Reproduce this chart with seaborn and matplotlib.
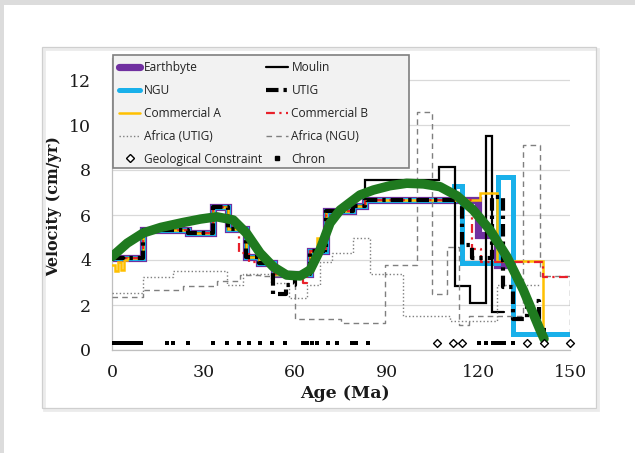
import matplotlib
matplotlib.use("Agg")
import matplotlib.pyplot as plt
from matplotlib.lines import Line2D
from matplotlib.patches import Rectangle
import pandas as pd
import seaborn as sns

sns.set_theme(style="white")
plt.rcParams['font.family'] = ['DejaVu Serif']

# ---- plate velocity models: each value holds from its age until the next age (Ma, cm/yr)
earthbyte_age = [0, 10, 25, 33, 38, 44, 48, 53, 65, 70, 79, 83, 120, 126, 130]
earthbyte_vel = [4.1, 5.35, 5.2, 6.35, 5.4, 4.15, 3.85, 3.4, 4.4, 6.2, 6.4, 6.65, 5.1, 3.8, 3.8]

ngu_age = [0, 10, 25, 33, 38, 44, 48, 53, 65, 70, 79, 83, 112, 114.6, 126.5, 131.4, 150]
ngu_vel = [4.1, 5.35, 5.2, 6.35, 5.4, 4.15, 3.85, 3.4, 4.4, 6.2, 6.4, 6.65, 7.3, 3.85, 7.7, 0.7, 0.7]

moulin_age = [0, 10, 25, 33, 38, 44, 48, 53, 65, 70, 79, 83, 107, 112.3, 117.3, 122.5, 124.5, 128.5]
moulin_vel = [4.1, 5.35, 5.2, 6.35, 5.4, 4.15, 3.85, 3.4, 4.4, 6.2, 6.4, 7.55, 8.15, 2.85, 2.1, 9.5, 1.7, 1.7]

utig_age = [0, 10, 25, 33, 38, 44, 48, 52.8, 57, 60, 65, 70, 79, 83, 114.5, 118, 124.5, 128, 131.4, 136, 140, 142]
utig_vel = [4.1, 5.35, 5.2, 6.35, 5.4, 4.15, 3.85, 2.5, 2.9, 3.4, 4.4, 6.2, 6.4, 6.65, 4.65, 4.1, 6.8, 2.8, 1.4, 2.2, 0.9, 0.9]

comm_a_age = [0, 1, 2, 3, 4, 5, 10, 25, 33, 38, 44, 48, 53, 65, 67, 70, 79, 83, 120.5, 126, 141.3]
comm_a_vel = [3.8, 3.5, 3.9, 3.55, 4.0, 4.1, 5.35, 5.2, 6.35, 5.4, 4.15, 3.85, 3.4, 4.4, 5.0, 6.2, 6.4, 6.65, 7.0, 3.95, 0.6]

comm_b_age = [0, 10, 25, 33, 38, 41.5, 45, 48, 53, 62.5, 64, 65, 70, 79, 83, 118, 121, 141.3, 150]
comm_b_vel = [4.1, 5.35, 5.2, 6.35, 5.6, 4.3, 3.9, 3.85, 3.4, 3.0, 3.4, 4.4, 6.2, 6.4, 6.65, 4.5, 3.9, 3.25, 3.25]

africa_utig_age = [0, 10, 20, 37.6, 43, 52, 58, 64, 68, 72, 79, 84.5, 95.4, 110.7, 126, 140]
africa_utig_vel = [2.55, 3.25, 3.5, 2.9, 3.4, 3.0, 2.3, 2.9, 3.9, 4.3, 5.0, 3.4, 1.5, 1.3, 2.9, 2.9]

africa_ngu_age = [0, 10, 23.4, 34.3, 42, 48.6, 60, 75, 89.4, 99.8, 104.7, 109.6, 113.5, 117, 134.7, 140.2, 150]
africa_ngu_vel = [2.35, 2.65, 2.85, 3.05, 3.35, 3.3, 1.4, 1.2, 3.8, 10.6, 2.5, 4.6, 1.1, 1.5, 9.1, 3.3, 0.6]

# ---- smoothed velocity trend
trend_age = [0, 5, 10.2, 16, 23, 29, 34.3, 39.7, 44, 48.5, 52.8, 57.2, 61.6, 64.9, 68.1, 71.4, 74.7,
             81.2, 85.6, 91, 96.5, 102, 107.4, 113, 118.3, 123.8, 129.3, 134.7, 140.2, 141.5]
trend_vel = [4.15, 4.75, 5.2, 5.45, 5.66, 5.82, 5.92, 5.78, 5.2, 4.31, 3.7, 3.33, 3.29, 3.56, 4.44,
             5.64, 6.22, 6.89, 7.11, 7.3, 7.41, 7.38, 7.26, 6.85, 6.22, 5.33, 4.15, 2.67, 0.89, 0.5]

# ---- markers along the age axis
chron_age = [0.5, 1.5, 2.5, 3.5, 4.5, 5.5, 6.5, 7.5, 8.5, 9.5, 18, 20, 25, 33, 37.7, 41.5, 45,
             48.6, 52.4, 56.5, 62.5, 64, 65.5, 67, 70.8, 73.6, 78.5, 79.8, 83.9,
             120.3, 122.6, 124.8, 126, 127.2, 128.4, 131.4]
constraint_age = [106.6, 111.8, 114.5, 135.8, 141.5, 150]
marker_level = 0.3

PURPLE = "#7030a0"
BLUE = "#19b0ea"
GOLD = "#ffc000"
RED = "#e8202a"
GRAY = "#7f7f7f"
GREEN = "#1f7a1f"

W, H = 635, 453
fig = plt.figure(figsize=(W / 100, H / 100), dpi=100, facecolor="white")

# page background strips and chart-area frame
bg = "#dcdcdc"
fig.patches.append(Rectangle((0, 1 - 5 / H), 1, 5 / H, transform=fig.transFigure,
                             facecolor=bg, edgecolor="none", zorder=0))
fig.patches.append(Rectangle((0, 0), 4 / W, 1, transform=fig.transFigure,
                             facecolor=bg, edgecolor="none", zorder=0))
fig.patches.append(Rectangle((44 / W, 1 - 410 / H), (596 - 42) / W, (408 - 47) / H,
                             transform=fig.transFigure, fill=False,
                             edgecolor="#ebebeb", lw=2.0, zorder=0))
fig.patches.append(Rectangle((42 / W, 1 - 408 / H), (596 - 42) / W, (408 - 47) / H,
                             transform=fig.transFigure, fill=False,
                             edgecolor="#cfcfcf", lw=0.9, zorder=1))

ax = fig.add_axes([112 / W, 103 / H, 458 / W, 292.5 / H])
ax.set_facecolor("none")


def step(age, vel, color, lw, ls="-", z=2):
    df = pd.DataFrame({"age": age, "vel": vel})
    sns.lineplot(data=df, x="age", y="vel", ax=ax, color=color, linewidth=lw,
                 linestyle=ls, drawstyle="steps-post", estimator=None, sort=False,
                 legend=False, zorder=z, solid_joinstyle="miter")


step(earthbyte_age, earthbyte_vel, PURPLE, 5.2, z=2)
step(ngu_age, ngu_vel, BLUE, 3.6, z=3)
step(moulin_age, moulin_vel, "black", 1.6, z=4)
step(comm_a_age, comm_a_vel, GOLD, 1.8, z=5)
step(comm_b_age, comm_b_vel, RED, 1.6, ls=(0, (4, 2, 1, 2)), z=6)
step(utig_age, utig_vel, "black", 3.0, ls=(0, (3, 1.2, 0.8, 1.2)), z=7)
step(africa_utig_age, africa_utig_vel, GRAY, 1.0, ls=(0, (1, 1.6)), z=4)
step(africa_ngu_age, africa_ngu_vel, GRAY, 1.0, ls=(0, (4, 3)), z=4)

trend = pd.DataFrame({"age": trend_age, "vel": trend_vel})
sns.lineplot(data=trend, x="age", y="vel", ax=ax, color=GREEN, linewidth=6.8,
             estimator=None, sort=False, legend=False, zorder=10)

chron = pd.DataFrame({"age": chron_age, "vel": [marker_level] * len(chron_age)})
sns.scatterplot(data=chron, x="age", y="vel", ax=ax, marker="s", s=9, color="black",
                edgecolor="black", linewidth=0, zorder=11, clip_on=False)
cons = pd.DataFrame({"age": constraint_age, "vel": [marker_level] * len(constraint_age)})
sns.scatterplot(data=cons, x="age", y="vel", ax=ax, marker="D", s=16, facecolor="white",
                edgecolor="black", linewidth=1.0, zorder=11, clip_on=False)

ax.set_xlim(0, 150)
ax.set_ylim(0, 13)
ax.set_xticks(range(0, 151, 30))
ax.set_yticks(range(0, 13, 2))
ax.yaxis.grid(True, color="#d9d9d9", linewidth=0.9)
ax.xaxis.grid(False)
ax.set_axisbelow(True)
for side in ("top", "right"):
    ax.spines[side].set_visible(False)
for side in ("left", "bottom"):
    ax.spines[side].set_color("#bfbfbf")
    ax.spines[side].set_linewidth(0.9)
ax.tick_params(axis="y", length=0, pad=15, labelsize=12.5, labelcolor="#1a1a1a")
ax.tick_params(axis="x", length=4, direction="inout", color="#cfcfcf", pad=8,
               labelsize=12.5, labelcolor="#1a1a1a")

ax.set_xlabel("Age (Ma)", fontsize=12.5, fontweight="bold", color="#1a1a1a")
ax.set_ylabel("Velocity (cm/yr)", fontsize=11.5, fontweight="bold", color="#1a1a1a")
ax.xaxis.set_label_coords(0.509, -0.12)
ax.yaxis.set_label_coords(-0.109, 0.49)

# legend box
fig.patches.append(Rectangle((113 / W, 1 - 168 / H), (409 - 113) / W, (168 - 55) / H,
                             transform=fig.transFigure, facecolor="#f2f2f2",
                             edgecolor="#7f7f7f", lw=1.2, zorder=15))

# legend entries, filled column by column
handles = [
    Line2D([], [], color=PURPLE, lw=5.2, solid_capstyle="round"),
    Line2D([], [], color=BLUE, lw=3.6, solid_capstyle="round"),
    Line2D([], [], color=GOLD, lw=1.8),
    Line2D([], [], color=GRAY, lw=1.0, ls=(0, (1, 1.6))),
    Line2D([], [], ls="none", marker="D", markersize=4, markerfacecolor="white",
           markeredgecolor="black", markeredgewidth=1.0),
    Line2D([], [], color="black", lw=1.6),
    Line2D([], [], color="black", lw=3.0, ls=(0, (3, 1.2, 0.8, 1.2))),
    Line2D([], [], color=RED, lw=1.6, ls=(0, (4, 2, 1, 2))),
    Line2D([], [], color=GRAY, lw=1.0, ls=(0, (4, 3))),
    Line2D([], [], ls="none", marker="s", markersize=3, color="black"),
]
labels = ["Earthbyte", "NGU", "Commercial A", "Africa (UTIG)", "Geological Constraint",
          "Moulin", "UTIG", "Commercial B", "Africa (NGU)", "Chron"]
leg = fig.legend(handles, labels, loc="upper left",
                 bbox_to_anchor=(113 / W, 1 - 55 / H),
                 bbox_transform=fig.transFigure, ncol=2, frameon=False,
                 prop={"family": "Open Sans", "size": 8.6}, handlelength=1.8,
                 handletextpad=0.3, columnspacing=0.35, labelspacing=0.83,
                 borderpad=0.5, borderaxespad=0)
leg.set_zorder(20)
for t in leg.get_texts():
    t.set_color("#222222")

fig.savefig("out.png", dpi=100, facecolor="white")
